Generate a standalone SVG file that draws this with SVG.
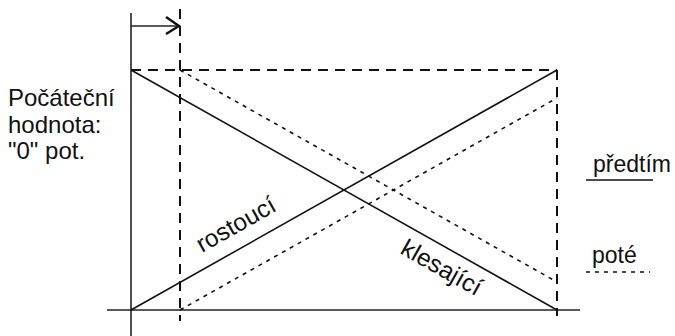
<svg xmlns="http://www.w3.org/2000/svg" width="675" height="336" viewBox="0 0 675 336">
<style>
.t{font-family:"Liberation Sans",Arial,sans-serif;fill:#111}
.ax{stroke:#222;stroke-width:1.6;fill:none}
.sol{stroke:#111;stroke-width:1.6;fill:none}
.dash{stroke:#111;stroke-width:2;fill:none;stroke-dasharray:10,7}
.dot{stroke:#111;stroke-width:1.6;fill:none;stroke-dasharray:4,5}
</style>
<rect width="675" height="336" fill="#fff"/>
<g id="axes">
<line class="ax" x1="131" y1="13" x2="131" y2="336"/>
<line class="ax" x1="107" y1="310" x2="580" y2="310"/>
</g>
<g id="shift-arrow">
<line class="ax" x1="131" y1="26" x2="178" y2="26"/>
<polyline points="166,17 179,26 166,34" fill="none" stroke="#111" stroke-width="2.4"/>
</g>
<g id="connectors">
<line class="dash" x1="180" y1="9" x2="180" y2="321"/>
<line class="dash" x1="131" y1="70" x2="557" y2="70"/>
<line class="dash" x1="557" y1="70" x2="557" y2="316"/>
<line class="sol" x1="131" y1="70" x2="557" y2="310"/>
<line class="sol" x1="131" y1="310" x2="557" y2="70"/>
<line class="dot" x1="180" y1="70" x2="557" y2="282"/>
<line class="dot" x1="180" y1="310" x2="557" y2="98"/>
</g>
<g id="start-label">
<text class="t" font-size="24" x="8" y="106">Počáteční</text>
<text class="t" font-size="24" x="8" y="132.5">hodnota:</text>
<text class="t" font-size="24" x="8" y="159">"0" pot.</text>
</g>
<g id="rostouci">
<text class="t" font-size="24.5" transform="translate(202,253) rotate(-29.4)">rostoucí</text>
</g>
<g id="klesajici">
<text class="t" font-size="24.5" transform="translate(399,253) rotate(29.4)">klesající</text>
</g>
<g id="legend">
<text class="t" font-size="23" x="593" y="172">předtím</text>
<line class="sol" x1="586" y1="180" x2="653" y2="180"/>
<text class="t" font-size="23" x="592" y="263">poté</text>
<line class="dot" x1="586" y1="272" x2="650" y2="272"/>
</g>
</svg>
